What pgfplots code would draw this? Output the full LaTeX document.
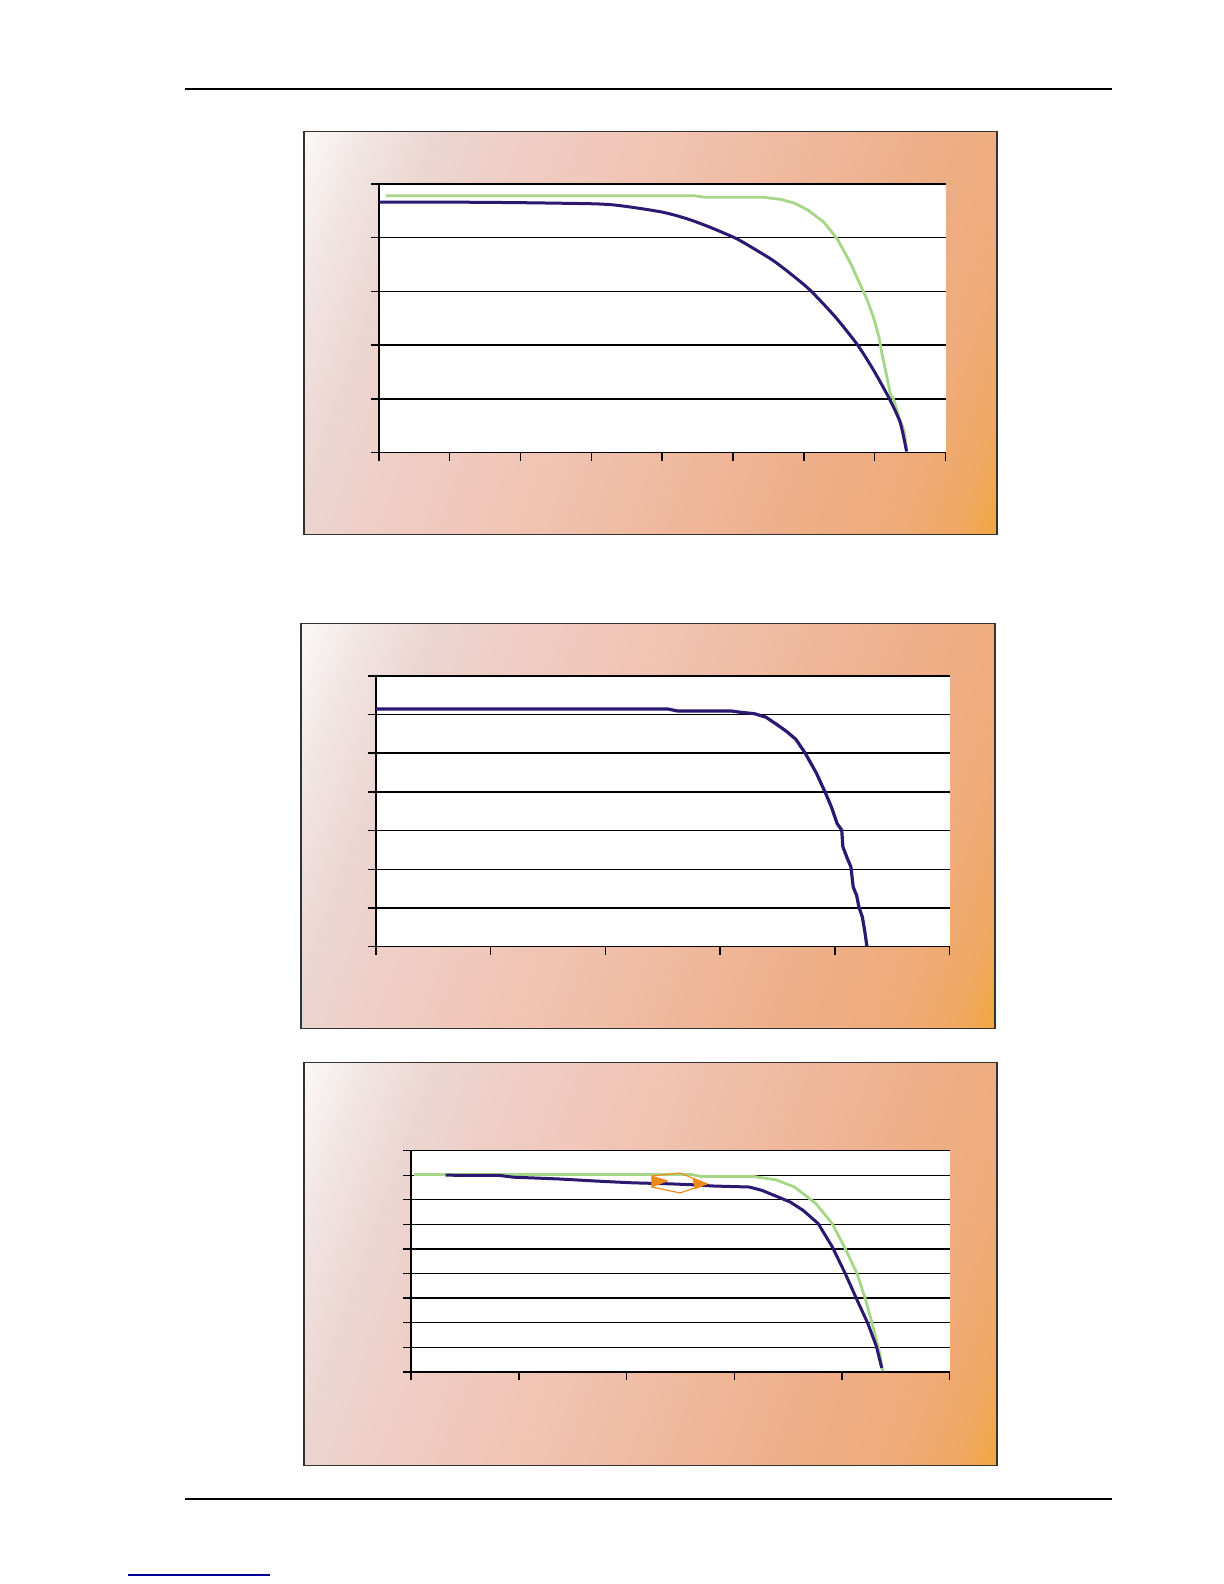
\documentclass[border=0pt]{standalone}
\usepackage{pgfplots}
\pgfplotsset{compat=1.18}
\definecolor{bluel}{HTML}{2C1870}
\definecolor{greenl}{HTML}{A6D787}
\definecolor{arrowc}{HTML}{EE8A1C}
\definecolor{s0}{HTML}{FFFFFF}
\definecolor{s18}{HTML}{FBF8F8}
\definecolor{s23}{HTML}{F1E4E2}
\definecolor{s28}{HTML}{ECD6D2}
\definecolor{s35}{HTML}{EFCDC4}
\definecolor{s42}{HTML}{F1C7B9}
\definecolor{s52}{HTML}{F0BDA6}
\definecolor{s65}{HTML}{EEB08B}
\definecolor{s74}{HTML}{EFAB7A}
\definecolor{s79}{HTML}{F0A862}
\definecolor{s82}{HTML}{F2A640}
\pgfdeclarehorizontalshading{panelbg}{100bp}{color(0bp)=(s0); color(18bp)=(s18); color(23bp)=(s23); color(28bp)=(s28); color(35bp)=(s35); color(42bp)=(s42); color(52bp)=(s52); color(65bp)=(s65); color(74bp)=(s74); color(79bp)=(s79); color(82bp)=(s82); color(100bp)=(s82)}
\pgfplotsset{panel/.style={
  scale only axis, anchor=north west, xmin=0, ymin=0,
  axis x line*=bottom, axis y line*=left,
  axis line style={black, line width=0.7bp},
  ymajorgrids, grid style={black, line width=0.7bp},
  xticklabels={}, yticklabels={},
  tick align=outside, major tick length=4bp,
  tick style={black, line width=0.7bp},
  axis background/.style={fill=white},
}}
\begin{document}
\begin{tikzpicture}
\fill[white] (0,0) rectangle (612bp,-792bp);
\begin{scope}[x=0.5051bp, y=-0.5051bp]
  \draw[black, line width=1.1bp] (183,88) -- (1101,88);
  \draw[black, line width=1.1bp] (183,1484) -- (1101,1484);
  \draw[blue!60!black, line width=0.8bp] (127,1559) -- (267,1559);
  \shade[shading=panelbg, shading angle=-20] (301,130) rectangle (987,529);
  \draw[black!80, line width=0.6bp] (301,130) rectangle (987,529);
  \shade[shading=panelbg, shading angle=-20] (298,617) rectangle (985,1018);
  \draw[black!80, line width=0.6bp] (298,617) rectangle (985,1018);
  \shade[shading=panelbg, shading angle=-20] (301,1052) rectangle (987,1451);
  \draw[black!80, line width=0.6bp] (301,1052) rectangle (987,1451);
\end{scope}

% Panel 1
\begin{axis}[panel, at={(189.41bp,-91.93bp)}, width=283.36bp, height=134.36bp,
  xmax=8, ymax=5, xtick={0,...,8}, ytick={0,...,5}]
\addplot[greenl, line width=1.4bp] coordinates {
(0.1,4.78) (4.45,4.78) (4.6,4.75) (5.43,4.75) (5.68,4.71) (5.87,4.64) (6.06,4.51) (6.28,4.29) (6.47,3.98) (6.66,3.52) (6.89,2.85) (6.98,2.53) (7.06,2.15) (7.10,1.86) (7.15,1.55) (7.22,1.10) (7.27,0.98) (7.34,0.67) (7.39,0.50) (7.42,0.38) (7.45,0.05)};
\addplot[bluel, line width=1.5bp, smooth, tension=0.4] coordinates {
(0,4.66) (1,4.66) (2,4.65) (3,4.63) (3.3,4.61) (3.6,4.56) (3.98,4.48) (4.2,4.41) (4.42,4.32) (4.7,4.18) (5.05,3.98) (5.3,3.79) (5.56,3.58) (5.82,3.32) (6.09,3.02) (6.44,2.53) (6.76,2.0) (6.99,1.52) (7.2,1.02) (7.36,0.56) (7.45,0.02)};
\end{axis}

% Panel 2
\begin{axis}[panel, at={(187.90bp,-337.91bp)}, width=286.90bp, height=135.37bp,
  xmax=5, ymax=7, xtick={0,...,5}, ytick={0,...,7}]
\addplot[bluel, line width=1.6bp] coordinates {
(0,6.14) (2.55,6.14) (2.63,6.09) (3.10,6.09) (3.17,6.06) (3.30,6.02) (3.40,5.93) (3.50,5.73) (3.58,5.56) (3.66,5.36) (3.74,5.01) (3.84,4.48) (3.92,3.96) (3.97,3.61) (4.02,3.18) (4.06,3.01) (4.07,2.58) (4.11,2.27) (4.14,2.06) (4.16,1.54) (4.19,1.32) (4.21,1.02) (4.24,0.76) (4.26,0.41) (4.28,0)};
\end{axis}

% Panel 3
\begin{axis}[panel, at={(205.58bp,-575.31bp)}, width=269.22bp, height=110.62bp,
  xmax=5, ymax=9, xtick={0,...,5}, ytick={0,...,9}]
\addplot[greenl, line width=1.4bp] coordinates {
(0.025,8.03) (2.6,8.03) (2.69,7.95) (3.18,7.95) (3.39,7.81) (3.56,7.52) (3.76,6.84) (3.91,6.03) (4.03,5.02) (4.14,4.01) (4.22,2.93) (4.28,1.98) (4.34,0.97) (4.38,0.03)};
\addplot[bluel, line width=1.5bp] coordinates {
(0.32,8.0) (0.82,7.99) (0.95,7.92) (1.36,7.85) (1.77,7.75) (2.06,7.69) (2.40,7.65) (2.62,7.61) (2.81,7.56) (3.14,7.52) (3.26,7.38) (3.52,6.91) (3.64,6.57) (3.78,6.03) (3.91,5.09) (4.03,4.01) (4.14,2.93) (4.24,1.98) (4.32,1.04) (4.37,0.16)};
\addplot[arrowc, line width=0.6bp] coordinates {(2.234,7.97) (2.497,8.09) (2.747,7.65) (2.497,7.28) (2.234,7.52)};
\addplot[arrowc, fill=arrowc, line width=0.3bp] coordinates {(2.234,7.97) (2.385,7.77) (2.234,7.52) (2.234,7.97)};
\addplot[arrowc, fill=arrowc, line width=0.3bp] coordinates {(2.617,7.85) (2.747,7.65) (2.636,7.44) (2.617,7.85)};
\end{axis}
\pgfresetboundingbox
\useasboundingbox (0,0) rectangle (612bp,-792bp);
\end{tikzpicture}
\end{document}
